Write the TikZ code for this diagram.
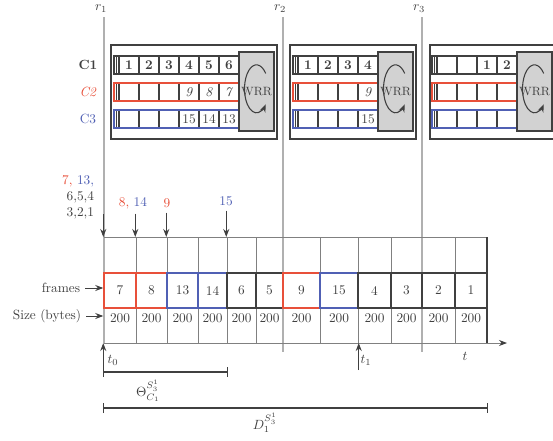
\documentclass[tikz,border=0pt]{standalone}
\usepackage{amsmath}
\usepackage{xcolor}
\usetikzlibrary{arrows.meta, calc}
\definecolor{qred}{HTML}{E8503A}
\definecolor{qblue}{HTML}{5060B4}
\definecolor{qdark}{HTML}{404040}
\definecolor{qgray}{HTML}{B0B0B0}
\tikzset{
    rline/.style={draw=qgray, line width=1.4pt},
    grid/.style={draw=gray, line width=0.6pt},
    port/.style={draw=qdark, thick, inner sep=0pt, minimum height=70.5pt},
    cell/.style={draw=qdark, thick, inner sep=0pt, minimum width=15pt, minimum height=13.5pt},
    wrr/.style={draw=qdark, thick, fill=gray!35, inner sep=0pt, minimum width=26.25pt, minimum height=59.25pt, font=\small},
    frm/.style={line width=1.1pt, inner sep=0pt, minimum height=26.25pt},
    span/.style={{Bar[width=7.5pt]}-{Bar[width=7.5pt]}, line width=0.9pt},
    bd/.style={>={Stealth[length=6pt, width=4.5pt]}, line width=0.7pt, color=qdark}
}
\begin{document}
\begin{tikzpicture}[bd, x=0.75pt, y=-0.75pt]
    \useasboundingbox (0,0) rectangle (553,440);
    % release instants
    \foreach \i/\x/\e in {1/104/343, 2/283/352, 3/422/352} {
        \node (r\i) at (\x-3,9) {$r_\i$};
        \draw[rline] (\x,17) -- (\x,\e);
    }
    % ports with their class queues
    \node[port, minimum width=124.5pt] (p1) at (194,92) {};
    \node[port, minimum width=94.5pt] (p2) at (353,92) {};
    \node[port, minimum width=94.5pt] (p3) at (493,92) {};
    \foreach \q/\x/\n in {a/119/6, b/298/4, c/437/4}
        \foreach \r/\y/\col in {1/65/qdark, 2/92/qred, 3/119/qblue} {
            \foreach \k in {1,...,\n}
                \node[cell] (\q\r\k) at ({\x+20*\k-10},\y) {};
            \draw[qdark, thick] (\x-2.5,\y-9) -- (\x-2.5,\y+9);
            \draw[\col, line width=1pt] (\x-5,\y-9) rectangle ({\x+20*\n},\y+9);
        }
    \foreach \c/\v in {a11/1, a12/2, a13/3, a14/4, a15/5, a16/6, b11/1, b12/2, b13/3, b14/4, c13/1, c14/2}
        \node (v\c) at (\c) {\textbf{\v}};
    \foreach \c/\v in {a24/9, a25/8, a26/7, b24/9}
        \node (v\c) at (\c) {\textit{\v}};
    \foreach \c/\v in {a34/15, a35/14, a36/13, b34/15}
        \node (v\c) at (\c) {\v};
    \foreach \w/\x in {w1/256.5, w2/395.5, w3/534.5} {
        \node[wrr] (\w) at (\x,91.5) {WRR};
        \draw[->, thick] ([shift={(40:9pt and 18pt)}, yshift=2pt]\w.center) arc[start angle=40, end angle=320, x radius=9pt, y radius=18pt];
    }
    \node (c1) at (88,65) {\textbf{C1}};
    \node[text=qred] (c2) at (88,92) {\textit{C2}};
    \node[text=qblue] (c3) at (88,119) {C3};

    % transmission timeline
    \coordinate (gtop) at (104,237);
    \coordinate (axis) at (104,343);
    \foreach \x in {136,167,198,227,256,320,358,391,455}
        \draw[grid] (\x,237) -- (\x,343);
    \draw[grid] (gtop) -- (487,237);
    \draw[grid, -{Stealth[length=6pt, width=4.5pt, color=qdark]}] (axis) -- (507,343);
    \draw[line width=1pt] (487,237) -- (487,343);
    \foreach \l/\r/\v/\col [count=\i] in {104/136/7/qred, 136/167/8/qred, 167/198/13/qblue, 198/227/14/qblue, 227/256/6/qdark, 256/283/5/qdark, 283/320/9/qred, 320/358/15/qblue, 358/391/4/qdark, 391/422/3/qdark, 422/455/2/qdark, 455/487/1/qdark} {
        \node[frm, draw=\col, minimum width={(\r-\l)*0.75pt}] (f\i) at ({(\l+\r)/2},290.5) {\v};
        \node (z\i) at ({(\l+\r)/2},318) {200};
    }
    \node (frames) at (61,288) {frames};
    \draw[->] (frames.east) -- (frames.east -| f1.west);
    \node (size) at (47,316) {Size (bytes)};
    \draw[->] (size.east) -- (size.east -| f1.west);

    % arrivals
    \node[align=right, anchor=east] (in1) at (99,197) {\textcolor{qred}{7,} \textcolor{qblue}{13,}\\6,5,4\\3,2,1};
    \node (in2) at (133,203) {\textcolor{qred}{8,} \textcolor{qblue}{14}};
    \node[text=qred] (in3) at (167,203) {9};
    \node[text=qblue] (in4) at (226,201) {15};
    \draw[->] (f1.west |- 0,214) -- (f1.west |- gtop);
    \draw[->] (in2.south -| f2.west) -- (f2.west |- gtop);
    \draw[->] (in3.south -| f3.west) -- (f3.west |- gtop);
    \draw[->] (in4.south -| f5.west) -- (f5.west |- gtop);

    % instants and spans
    \node (t0) at (113,360) {$t_0$};
    \draw[->] (t0.south -| f1.west) -- (f1.west |- axis);
    \node (t1) at (366,360) {$t_1$};
    \draw[->] (t1.south -| f8.east) -- (f8.east |- axis);
    \node (t) at (465,356) {$t$};
    \coordinate (th) at (0,372);
    \draw[span] (f1.west |- th) -- (f4.east |- th);
    \node (theta) at (148,391) {$\Theta_{C_1}^{S_3^1}$};
    \coordinate (dl) at (0,408);
    \draw[span] (f1.west |- dl) -- (f12.east |- dl);
    \node (dlab) at (265,423) {$D_1^{S_3^1}$};
\end{tikzpicture}
\end{document}
